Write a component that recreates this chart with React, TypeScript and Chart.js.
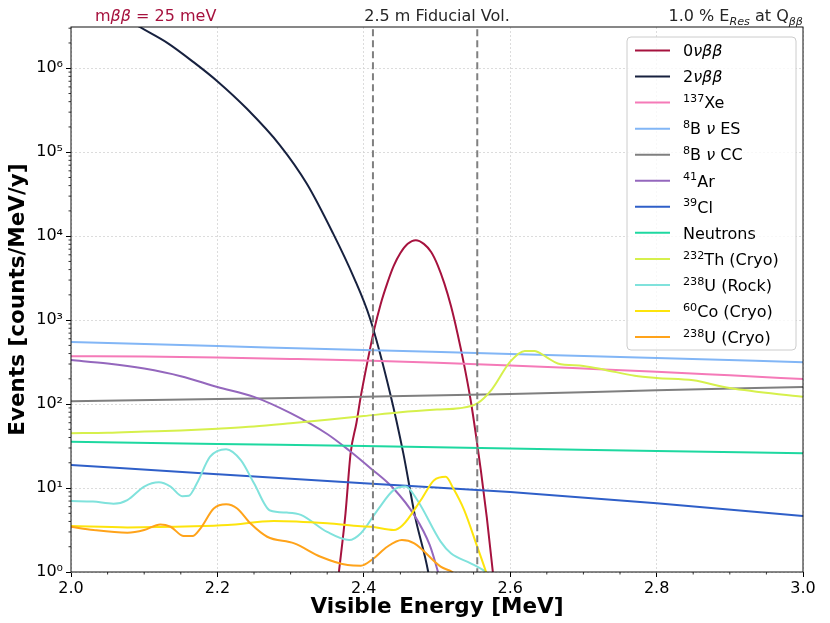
import { useEffect, useRef } from "react";
import { Chart, registerables } from "chart.js";

Chart.register(...registerables);
Chart.defaults.font.family = '"DejaVu Sans", sans-serif';

// tick labels
const xTickValues = [2.0, 2.2, 2.4, 2.6, 2.8, 3.0];
const xTickLabels = ["2.0", "2.2", "2.4", "2.6", "2.8", "3.0"];
const yTickValues = [1, 10, 100, 1e3, 1e4, 1e5, 1e6];
const yTickLabels = ["10⁰", "10¹", "10²", "10³", "10⁴", "10⁵", "10⁶"];

// fiducial volume edges
const fiducialEdges = [2.4125, 2.555];

// 0vbb
const zeroNuE = [2.355, 2.366, 2.375, 2.382, 2.39, 2.396, 2.405, 2.414, 2.423, 2.432, 2.441, 2.45, 2.46, 2.471, 2.482, 2.492, 2.501, 2.51, 2.519, 2.528, 2.537, 2.546, 2.553, 2.56, 2.568, 2.576, 2.585];
const zeroNuRate = [0.15, 1.0, 5, 26, 60, 125, 320, 760, 1550, 2740, 4450, 6300, 8100, 8960, 8100, 6480, 4500, 2740, 1480, 694, 295, 111, 44, 16, 4.5, 1.05, 0.2];

// 2vbb
const twoNuE = [2.0, 2.05, 2.094, 2.131, 2.167, 2.201, 2.24, 2.2855, 2.322, 2.358, 2.386, 2.4085, 2.436, 2.454, 2.47, 2.488, 2.5];
const twoNuRate = [8.5e6, 5.4e6, 3.1e6, 2.02e6, 1.19e6, 6.87e5, 3.31e5, 1.21e5, 4.24e4, 1.08e4, 3280, 1047, 134, 25.9, 4.6, 1.0, 0.2];

// 137Xe
const xe137E = [2.0, 2.1, 2.2, 2.3, 2.4, 2.5, 2.6, 2.7, 2.8, 2.9, 3.0];
const xe137Rate = [372, 368, 358, 345, 330, 310, 288, 265, 243, 220, 199];

// 8B nu ES / CC
const b8EsE = [2.0, 2.2, 2.4, 2.6, 2.8, 3.0];
const b8EsRate = [550, 492, 440, 396, 353, 316];
const b8CcE = [2.0, 2.2, 2.4, 2.6, 2.8, 3.0];
const b8CcRate = [108, 115, 122, 132, 146, 160];

// 41Ar
const ar41E = [2.0, 2.05, 2.1, 2.15, 2.2, 2.25, 2.3, 2.35, 2.38, 2.41, 2.44, 2.47, 2.49, 2.5, 2.51];
const ar41Rate = [334, 305, 265, 215, 160, 122, 78, 44, 28, 17, 10, 4.6, 2.1, 1.1, 0.5];

// 39Cl
const cl39E = [2.0, 2.2, 2.4, 2.6, 2.8, 3.0];
const cl39Rate = [18.8, 14.6, 11.4, 9.0, 6.6, 4.64];

// neutrons
const neutronE = [2.0, 2.2, 2.4, 2.6, 2.8, 3.0];
const neutronRate = [35.6, 33.5, 31.6, 29.6, 27.6, 25.9];

// 232Th (Cryo)
const th232E = [2.0, 2.05, 2.1, 2.15, 2.2, 2.25, 2.3, 2.35, 2.4, 2.45, 2.5, 2.53, 2.555, 2.575, 2.6, 2.62, 2.633, 2.65, 2.665, 2.7, 2.73, 2.77, 2.8, 2.85, 2.9, 3.0];
const th232Rate = [45, 45.5, 47, 48.5, 51, 54, 59, 65, 72, 80, 86, 89, 102, 150, 320, 430, 430, 360, 305, 285, 255, 218, 205, 192, 155, 122];

// 238U (Rock)
const u238RockE = [2.0, 2.03, 2.058, 2.077, 2.1, 2.12, 2.136, 2.152, 2.161, 2.172, 2.19, 2.212, 2.232, 2.25, 2.272, 2.295, 2.314, 2.35, 2.38, 2.396, 2.419, 2.441, 2.457, 2.473, 2.505, 2.519, 2.546, 2.567, 2.58];
const u238RockRate = [7.0, 6.9, 6.5, 7.2, 10.4, 11.7, 10.4, 8.0, 8.1, 11.4, 23.6, 29, 21.5, 11.4, 5.4, 5.1, 4.8, 3.0, 2.4, 2.9, 5.5, 9.5, 10.4, 7.2, 2.3, 1.67, 1.27, 1.0, 0.8];

// 60Co (Cryo)
const co60E = [2.0, 2.077, 2.168, 2.214, 2.277, 2.35, 2.396, 2.41, 2.441, 2.453, 2.478, 2.496, 2.512, 2.522, 2.537, 2.555, 2.567, 2.575];
const co60Rate = [3.53, 3.4, 3.5, 3.63, 4.05, 3.8, 3.5, 3.46, 3.16, 3.6, 7.2, 12.4, 13.6, 10.0, 5.5, 2.0, 1.0, 0.6];

// 238U (Cryo)
const u238CryoE = [2.0, 2.031, 2.077, 2.1, 2.122, 2.136, 2.154, 2.166, 2.177, 2.195, 2.212, 2.227, 2.245, 2.268, 2.305, 2.341, 2.378, 2.396, 2.412, 2.432, 2.452, 2.469, 2.505, 2.521, 2.535];
const u238CryoRate = [3.46, 3.16, 2.94, 3.16, 3.69, 3.46, 2.68, 2.68, 3.31, 5.7, 6.4, 5.7, 3.8, 2.63, 2.19, 1.52, 1.21, 1.19, 1.42, 2.0, 2.4, 2.19, 1.16, 1.0, 0.8];

const series = [
  { label: "0$νββ$", color: "#a6123e", e: zeroNuE, r: zeroNuRate },
  { label: "2$νββ$", color: "#17213f", e: twoNuE, r: twoNuRate },
  { label: "^{137}Xe", color: "#f57ab8", e: xe137E, r: xe137Rate },
  { label: "^{8}B $ν$ ES", color: "#82b6f6", e: b8EsE, r: b8EsRate },
  { label: "^{8}B $ν$ CC", color: "#7f7f7f", e: b8CcE, r: b8CcRate },
  { label: "^{41}Ar", color: "#9467bd", e: ar41E, r: ar41Rate },
  { label: "^{39}Cl", color: "#2f5fc8", e: cl39E, r: cl39Rate },
  { label: "Neutrons", color: "#1ed8a0", e: neutronE, r: neutronRate },
  { label: "^{232}Th (Cryo)", color: "#d6f04c", e: th232E, r: th232Rate },
  { label: "^{238}U (Rock)", color: "#80e2dc", e: u238RockE, r: u238RockRate },
  { label: "^{60}Co (Cryo)", color: "#fde40c", e: co60E, r: co60Rate },
  { label: "^{238}U (Cryo)", color: "#ffa31a", e: u238CryoE, r: u238CryoRate },
];

// tiny mathtext: $..$ italic, ^{..} superscript, _{..} subscript
type Seg = { text: string; italic: boolean; shift: number; w: number };
function parseRich(s: string): Seg[] {
  const segs: Seg[] = [];
  let italic = false;
  let shift = 0;
  let buf = "";
  const push = () => {
    if (buf) segs.push({ text: buf, italic, shift, w: 0 });
    buf = "";
  };
  for (let i = 0; i < s.length; i++) {
    const c = s[i];
    if (c === "$") { push(); italic = !italic; continue; }
    if ((c === "^" || c === "_") && s[i + 1] === "{") { push(); shift = c === "^" ? 1 : -1; i++; continue; }
    if (c === "}" && shift !== 0) { push(); shift = 0; continue; }
    buf += c;
  }
  push();
  return segs;
}

function drawRich(ctx: CanvasRenderingContext2D, text: string, x: number, y: number, size: number, align: string, color: string) {
  const segs = parseRich(text);
  const fontFor = (s: Seg) =>
    `${s.italic ? "italic " : ""}${s.shift ? size * 0.7 : size}px "DejaVu Sans"`;
  let total = 0;
  for (const s of segs) {
    ctx.font = fontFor(s);
    s.w = ctx.measureText(s.text).width;
    total += s.w;
  }
  let cx = align === "left" ? x : align === "right" ? x - total : x - total / 2;
  ctx.fillStyle = color;
  ctx.textAlign = "left";
  ctx.textBaseline = "alphabetic";
  for (const s of segs) {
    ctx.font = fontFor(s);
    const dy = s.shift === 1 ? -0.38 * size : s.shift === -1 ? 0.22 * size : 0;
    ctx.fillText(s.text, cx, y + dy);
    cx += s.w;
  }
}

const decorPlugin = {
  id: "decor",
  afterDraw(chart: any) {
    const { ctx, chartArea } = chart;
    const { left, right, top, bottom } = chartArea;
    const xS = chart.scales.x;
    const yS = chart.scales.y;
    ctx.save();

    // minor ticks
    ctx.strokeStyle = "#000";
    ctx.lineWidth = 0.8;
    for (let k = 0; k < 7; k++) {
      for (let m = 2; m < 10; m++) {
        const v = m * Math.pow(10, k);
        if (v > yS.max) continue;
        const py = yS.getPixelForValue(v);
        ctx.beginPath();
        ctx.moveTo(left - 2.5, py);
        ctx.lineTo(left, py);
        ctx.stroke();
      }
    }
    for (let i = 1; i < 20; i++) {
      if (i % 4 === 0) continue;
      const px = xS.getPixelForValue(xS.min + i * 0.05);
      ctx.beginPath();
      ctx.moveTo(px, bottom);
      ctx.lineTo(px, bottom + 2.5);
      ctx.stroke();
    }

    // frame
    ctx.strokeStyle = "#111";
    ctx.lineWidth = 1;
    ctx.strokeRect(left, top, right - left, bottom - top);

    // titles
    const ty = top - 6;
    drawRich(ctx, "m$ββ$ = 25 meV", left + 24, ty, 16, "left", "#a6123e");
    drawRich(ctx, "2.5 m Fiducial Vol.", (left + right) / 2, ty, 16, "center", "#262626");
    drawRich(ctx, "1.0 % E_{$Res$} at Q_{$ββ$}", right, ty, 16, "right", "#262626");

    // legend
    const entries = chart.data.datasets.filter((d: any) => !d.noLegend);
    const fs = 16;
    const rowH = 26.05;
    const bR = right - 7;
    const bT = top + 10;
    const bL = bR - 169;
    const bH = 313;
    ctx.beginPath();
    ctx.roundRect(bL, bT, bR - bL, bH, 4);
    ctx.fillStyle = "rgba(255,255,255,0.8)";
    ctx.fill();
    ctx.strokeStyle = "#cccccc";
    ctx.lineWidth = 1;
    ctx.stroke();
    entries.forEach((d: any, i: number) => {
      const cy = bT + 13.5 + i * rowH;
      ctx.beginPath();
      ctx.strokeStyle = d.borderColor;
      ctx.lineWidth = 2;
      ctx.moveTo(bL + 8, cy);
      ctx.lineTo(bL + 43, cy);
      ctx.stroke();
      drawRich(ctx, d.label, bL + 56, cy + 0.36 * fs, fs, "left", "#000");
    });
    ctx.restore();
  },
};

export default function App() {
  const chartRef = useRef<HTMLCanvasElement>(null);
  const chartInstance = useRef<Chart | null>(null);

  useEffect(() => {
    if (!chartRef.current) return;
    const ctx = chartRef.current.getContext("2d");
    if (!ctx) return;
    if (chartInstance.current) chartInstance.current.destroy();

    const curveSets = series.map((s, i) => ({
      label: s.label,
      data: s.e.map((e, j) => ({ x: e, y: s.r[j] })),
      borderColor: s.color,
      backgroundColor: s.color,
      borderWidth: 2,
      pointRadius: 0,
      fill: false,
      cubicInterpolationMode: "monotone" as const,
      order: -i,
    }));
    const edgeSets = fiducialEdges.map((e) => ({
      label: "fiducial",
      noLegend: true,
      data: [{ x: e, y: 0.5 }, { x: e, y: 1e7 }],
      borderColor: "#808080",
      borderWidth: 2,
      borderDash: [7, 4],
      pointRadius: 0,
      fill: false,
      tension: 0,
      order: -100,
    }));

    chartInstance.current = new Chart(ctx, {
      type: "line",
      data: { datasets: [...curveSets, ...edgeSets] as any },
      options: {
        animation: false,
        responsive: true,
        maintainAspectRatio: false,
        layout: { padding: { left: 0, right: 27, top: 27, bottom: 0 } },
        plugins: {
          legend: { display: false },
          tooltip: { enabled: false },
        },
        scales: {
          x: {
            type: "linear",
            min: 2,
            max: 3,
            afterBuildTicks: (s: any) => {
              s.ticks = xTickValues.map((v) => ({ value: v }));
            },
            afterFit: (s: any) => {
              s.height = 51;
            },
            ticks: {
              callback: (_v: any, i: number) => xTickLabels[i],
              font: { size: 16 },
              color: "#000",
              padding: 2,
              maxRotation: 0,
              autoSkip: false,
            },
            grid: { color: "#d4d4d4", lineWidth: 0.8, tickColor: "#000", tickLength: 5, tickWidth: 1 },
            border: { display: false, dash: [2, 2] },
            title: {
              display: true,
              text: "Visible Energy [MeV]",
              font: { size: 21.5, weight: "bold" },
              color: "#000",
              padding: { top: 0, bottom: 3 },
            },
          },
          y: {
            type: "logarithmic",
            min: 1,
            max: 3.1e6,
            afterBuildTicks: (s: any) => {
              s.ticks = yTickValues.map((v) => ({ value: v }));
            },
            afterFit: (s: any) => {
              s.width = 71;
            },
            ticks: {
              callback: (_v: any, i: number) => yTickLabels[i],
              font: { size: 16 },
              color: "#000",
              padding: 3,
              autoSkip: false,
            },
            grid: { color: "#d4d4d4", lineWidth: 0.8, tickColor: "#000", tickLength: 5, tickWidth: 1 },
            border: { display: false, dash: [2, 2] },
            title: {
              display: true,
              text: "Events [counts/MeV/y]",
              font: { size: 21.5, weight: "bold" },
              color: "#000",
              padding: { top: 6, bottom: 0 },
            },
          },
        },
      },
      plugins: [decorPlugin],
    });

    return () => {
      if (chartInstance.current) {
        chartInstance.current.destroy();
        chartInstance.current = null;
      }
    };
  }, []);

  return (
    <div style={{ position: "fixed", left: 0, top: 0, width: 830, height: 623, background: "#fff" }}>
      <canvas ref={chartRef}></canvas>
    </div>
  );
}
